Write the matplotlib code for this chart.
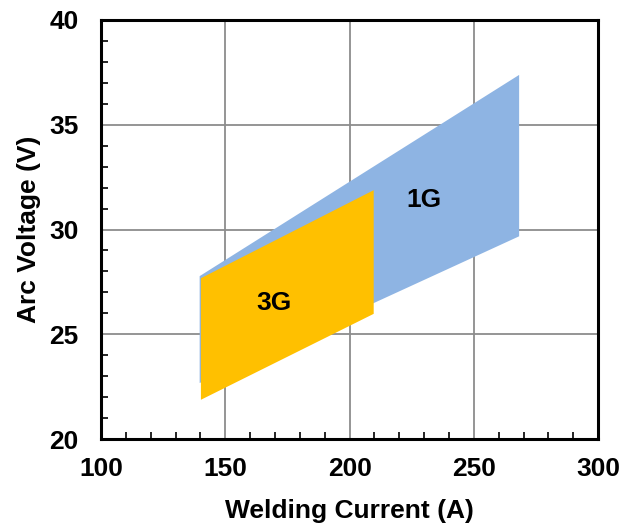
import matplotlib

matplotlib.use("Agg")
import matplotlib.pyplot as plt
from matplotlib.ticker import MultipleLocator

plt.rcParams.update({
    "font.family": ["Liberation Sans", "DejaVu Sans"],
    "font.weight": "bold",
    "font.size": 19,
})

# operating windows (welding current vs arc voltage)
current_1g = [139.5, 268]
v_low_1g = [22.7, 29.7]
v_high_1g = [27.8, 37.4]

current_3g = [140, 209.5]
v_low_3g = [21.9, 26.0]
v_high_3g = [27.7, 31.9]

x_ticks = [100, 150, 200, 250, 300]
y_ticks = [20, 25, 30, 35, 40]

fig = plt.figure(figsize=(6.31, 5.24), dpi=100)
ax = fig.add_axes([0.160, 0.162, 0.788, 0.800])

ax.fill_between(current_1g, v_low_1g, v_high_1g, color="#8EB4E3", lw=0, zorder=2)
ax.fill_between(current_3g, v_low_3g, v_high_3g, color="#FFC000", lw=0, zorder=3)

ax.text(230, 31.4, "1G", ha="center", va="center", fontsize=19,
        fontweight="bold", zorder=4)
ax.text(169.5, 26.5, "3G", ha="center", va="center", fontsize=19,
        fontweight="bold", zorder=4)

ax.set_xlim(100, 300)
ax.set_ylim(20, 40)
ax.set_xticks(x_ticks)
ax.set_yticks(y_ticks)
ax.xaxis.set_minor_locator(MultipleLocator(10))
ax.yaxis.set_minor_locator(MultipleLocator(1))
ax.tick_params(which="major", length=0, labelsize=19)
ax.tick_params(axis="x", which="major", pad=13)
ax.tick_params(axis="y", which="major", pad=16)
ax.tick_params(which="minor", direction="in", length=5, width=1.2)

ax.grid(True, which="major", color="#8c8c8c", linewidth=1.3, zorder=0)
ax.set_axisbelow(True)
for sp in ax.spines.values():
    sp.set_linewidth(2.2)

ax.set_xlabel("Welding Current (A)", fontsize=19, fontweight="bold", labelpad=13)
ax.set_ylabel("Arc Voltage (V)", fontsize=19, fontweight="bold", labelpad=6)

fig.savefig("out.png", dpi=100)
